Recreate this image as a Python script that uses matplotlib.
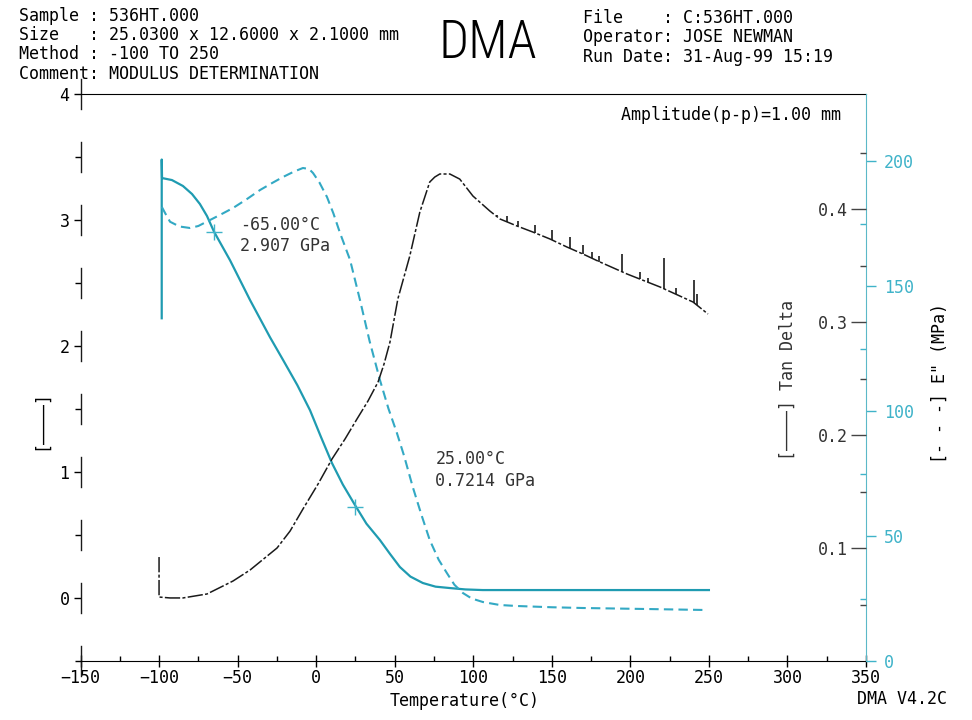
import numpy as np
import matplotlib
matplotlib.use("Agg")
import matplotlib.pyplot as plt
from matplotlib.ticker import MultipleLocator, FixedLocator

# storage modulus E' (GPa), solid
temp_storage = [-98.3, -98.3, -98.1, -91.8, -84.8, -79.0, -74.0, -69.5, -65.0, -54.8, -42.1,
                -29.4, -21.1, -12.0, -3.9, 3.0, 10.1, 17.0, 24.7, 32.0, 40.6, 47.0, 53.3,
                60.0, 67.9, 76.0, 85.1, 95.0, 106.0, 150.0, 200.0, 250.0]
storage_gpa = [2.22, 3.48, 3.333, 3.317, 3.27, 3.206, 3.127, 3.032, 2.907, 2.68, 2.365,
               2.07, 1.89, 1.69, 1.49, 1.28, 1.07, 0.90, 0.738, 0.59, 0.46, 0.35, 0.246,
               0.17, 0.119, 0.09, 0.079, 0.068, 0.063, 0.063, 0.063, 0.063]

# loss modulus E'' (MPa), dashed
temp_loss = [-98.3, -96.0, -93.0, -87.0, -80.3, -75.0, -69.7, -61.0, -52.9, -44.0, -35.7,
             -28.0, -21.1, -14.0, -8.4, -4.5, -2.0, 2.0, 6.9, 11.0, 15.2, 21.6, 27.9, 34.0,
             40.6, 46.0, 51.4, 56.0, 61.5, 67.0, 72.3, 78.0, 83.2, 88.0, 93.4, 99.0, 106.1,
             116.9, 127.8, 150.0, 169.8, 210.0, 248.0]
loss_mpa = [181.7, 179.0, 175.7, 173.8, 173.2, 174.0, 175.7, 178.5, 181.2, 184.8, 188.4,
            191.2, 193.6, 195.8, 197.2, 196.8, 195.2, 191.5, 185.6, 179.0, 171.2, 160.4, 144.4,
            128.0, 112.4, 101.0, 91.2, 82.0, 69.6, 58.5, 48.4, 40.5, 35.2, 30.5, 27.2, 25.0,
            23.6, 22.4, 22.0, 21.5, 21.2, 20.8, 20.4]

# tan delta, dash-dot
temp_tan = [-100.0, -100.0, -93.0, -84.8, -69.5, -52.9, -42.1, -24.9, -16.6, -8.4, 1.2,
            10.1, 18.4, 26.0, 33.0, 39.4, 43.2, 47.0, 52.0, 59.6, 66.0, 72.3, 75.5, 78.7,
            85.1, 91.4, 99.8, 110.6, 117.0, 127.8, 138.0, 148.8, 159.6, 169.8, 180.7,
            197.9, 218.9, 239.9, 249.4]
tan_delta = [0.092, 0.0566, 0.0558, 0.0558, 0.0593, 0.0708, 0.0805, 0.100, 0.115, 0.1345,
             0.1566, 0.1788, 0.1965, 0.2142, 0.2301, 0.2469, 0.2628, 0.2823, 0.3204, 0.3584,
             0.3973, 0.4239, 0.4283, 0.431, 0.431, 0.4265, 0.4115, 0.3982, 0.3912, 0.385,
             0.3796, 0.3735, 0.3664, 0.3602, 0.3531, 0.3425, 0.331, 0.3177, 0.3071]

# noise spikes on the tan delta trace
spike_temp = [115.0, 121.5, 128.5, 139.3, 150.1, 161.6, 169.8, 175.6, 180.0, 194.7,
              206.2, 211.3, 221.5, 229.1, 240.5, 242.4]
spike_top = [0.395, 0.394, 0.389, 0.386, 0.381, 0.375, 0.368, 0.362, 0.358, 0.360,
             0.344, 0.339, 0.357, 0.330, 0.337, 0.325]

mark_temp = [-65.0, 25.0]
mark_gpa = [2.907, 0.7214]
mark_text = ["-65.00°C\n2.907 GPa", "25.00°C\n0.7214 GPa"]
mark_offset = [(26, -4), (80, 37)]

W, H = 972, 720
cyan = "#1f9bb1"
cyan2 = "#33a9c4"
cyan_txt = "#3fb3c9"
dark = "#1a1a1a"

plt.rcParams["font.family"] = ["DejaVu Sans Mono"]
plt.rcParams["font.size"] = 12

fig = plt.figure(figsize=(W / 100, H / 100), dpi=100)
ax1 = fig.add_axes([80.5 / W, 59 / H, 785.5 / W, 567 / H])
ax2 = ax1.twinx()
ax3 = ax1.twinx()


def ftext(x, y, s, **kw):
    kw.setdefault("va", "center")
    fig.text(x / W, 1 - y / H, s, **kw)


# curves
ax1.plot(temp_storage, storage_gpa, color=cyan, lw=1.6, solid_joinstyle="round")
ax2.plot(temp_loss, loss_mpa, color=cyan2, lw=1.5, dashes=(4.5, 2.5))
ax3.plot(temp_tan, tan_delta, color=dark, lw=1.1, dashes=(10, 1.5, 2, 1.5))
spike_base = np.interp(spike_temp, temp_tan[1:], tan_delta[1:])
ax3.vlines(spike_temp, spike_base, spike_top, color=dark, lw=1.2)

# cursor marks
ax1.plot(mark_temp, mark_gpa, "+", ms=11, mew=1.0, color=cyan_txt, zorder=5)
for t, v, s, off in zip(mark_temp, mark_gpa, mark_text, mark_offset):
    ax1.annotate(s, (t, v), xytext=off, textcoords="offset pixels",
                 ha="left", va="center", linespacing=1.25, color="#333333")

# left axis
ax1.set_xlim(-150, 350)
ax1.set_ylim(-0.5, 4.0)
ax1.xaxis.set_major_locator(MultipleLocator(50))
ax1.xaxis.set_minor_locator(MultipleLocator(25))
ax1.yaxis.set_major_locator(FixedLocator([0, 1, 2, 3, 4]))
ax1.yaxis.set_minor_locator(FixedLocator([-0.5, 0.5, 1.5, 2.5, 3.5]))
ax1.tick_params(axis="x", which="major", direction="inout", length=9, width=1, pad=1)
ax1.tick_params(axis="x", which="minor", direction="in", length=3.5, width=1)
ax1.tick_params(axis="y", which="major", direction="out", length=5, width=1, pad=3)
ax1.tick_params(axis="y", which="minor", direction="out", length=4, width=1)
ax1.spines["left"].set_visible(False)
ax1.spines["right"].set_visible(False)
for v in np.arange(-0.5, 4.01, 0.5):
    ax1.plot([-150, -150], [v - 0.12, v + 0.12], color=dark, lw=1, clip_on=False)
ax1.set_xlabel("Temperature(°C)")
ax1.xaxis.set_label_coords((465 - 80.5) / 785.5, (661 - 692) / 567)

# E'' axis (right, cyan)
ax2.set_ylim(0, 226.8)
ax2.yaxis.set_major_locator(FixedLocator([0, 50, 100, 150, 200]))
ax2.yaxis.set_minor_locator(FixedLocator([25, 75, 125, 175]))
ax2.tick_params(axis="y", which="major", direction="out", length=7, width=1,
                color=cyan_txt, labelcolor=cyan_txt, pad=6)
ax2.tick_params(axis="y", which="minor", direction="in", length=4, width=1, color=cyan_txt)
for s in ["left", "top", "bottom"]:
    ax2.spines[s].set_visible(False)
ax2.spines["right"].set_color("#5bb8c8")

# tan delta axis (labels inside, on the right spine)
ax3.set_ylim(0, 0.5018)
ax3.yaxis.set_ticks_position("left")
ax3.spines["left"].set_position(("axes", 1.0))
for s in ["left", "right", "top", "bottom"]:
    ax3.spines[s].set_visible(False)
ax3.yaxis.set_major_locator(FixedLocator([0.1, 0.2, 0.3, 0.4]))
ax3.yaxis.set_minor_locator(FixedLocator([0.05, 0.15, 0.25, 0.35, 0.45]))
ax3.yaxis.set_major_formatter(lambda v, p: f"{v:.1f}")
ax3.tick_params(axis="y", which="major", direction="out", length=11, width=1,
                color="#444444", labelcolor="#333333", pad=2)
ax3.tick_params(axis="y", which="minor", direction="out", length=4, width=1, color="#444444")

# axis captions
ftext(41, 420, "[————]", rotation=90, ha="center")
ftext(788, 380, "[————] Tan Delta", rotation=90, ha="center", color="#333333")
ftext(940, 383, "[- - -] E\" (MPa)", rotation=90, ha="center")

# header
ftext(19, 16, "Sample : 536HT.000")
ftext(19, 35, "Size   : 25.0300 x 12.6000 x 2.1000 mm")
ftext(19, 54, "Method : -100 TO 250")
ftext(19, 74, "Comment: MODULUS DETERMINATION")
ftext(438, 43, "DMA", family=["Roboto Condensed", "Roboto"], fontweight="light", fontsize=38)
ftext(583, 18, "File    : C:536HT.000")
ftext(583, 37, "Operator: JOSE NEWMAN")
ftext(583, 57, "Run Date: 31-Aug-99 15:19")
ftext(621, 115, "Amplitude(p-p)=1.00 mm")
ftext(857, 699, "DMA V4.2C")

fig.savefig("out.png", dpi=100)
